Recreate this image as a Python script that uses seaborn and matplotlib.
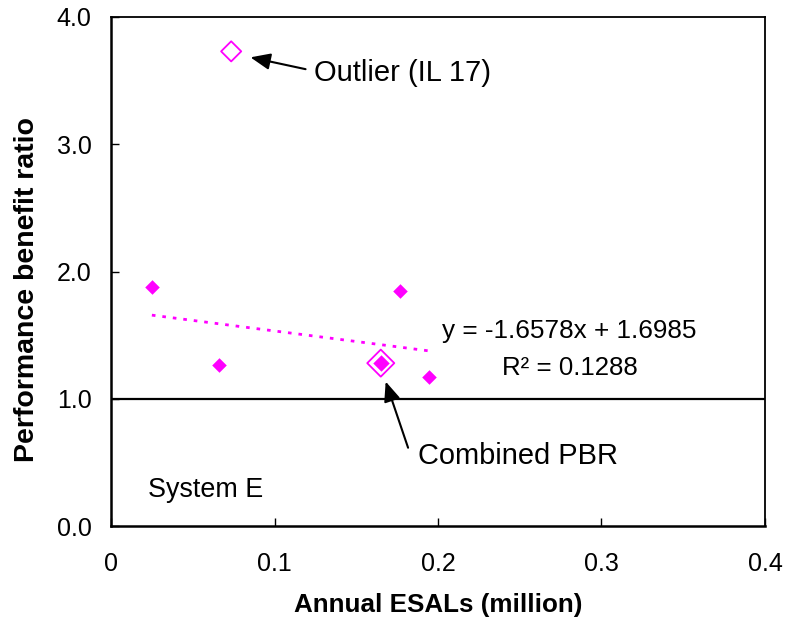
import matplotlib
matplotlib.use("Agg")
import matplotlib.pyplot as plt
import seaborn as sns
import numpy as np
import pandas as pd

# Section data: annual ESALs (million) vs performance benefit ratio
esals = [0.025, 0.066, 0.177, 0.1945]
pbr = [1.88, 1.265, 1.85, 1.17]

combined_esals = [0.165]
combined_pbr = [1.28]

outlier_esals = [0.0735]
outlier_pbr = [3.73]

# Linear trend (excluding the outlier)
slope = -1.6578
intercept = 1.6985
r2 = 0.1288
trend_x = [0.025, 0.195]

x_ticks = [0, 0.1, 0.2, 0.3, 0.4]
x_tick_labels = ["0", "0.1", "0.2", "0.3", "0.4"]
y_ticks = [0.0, 1.0, 2.0, 3.0, 4.0]
y_tick_labels = ["0.0", "1.0", "2.0", "3.0", "4.0"]

sns.set_theme(style="white")
plt.rcParams["font.family"] = ["Liberation Sans", "DejaVu Sans"]
plt.rcParams["text.color"] = "black"
plt.rcParams["axes.labelcolor"] = "black"

fig = plt.figure(figsize=(7.87, 6.26), dpi=100)
ax = fig.add_axes([111 / 787, 1 - 526 / 626, (765 - 111) / 787, (526 - 17) / 626])

magenta = "#FF00FF"

df = pd.DataFrame({"esals": esals, "pbr": pbr})
sns.scatterplot(data=df, x="esals", y="pbr", ax=ax, marker="D", s=55,
                color=magenta, edgecolor=magenta, linewidth=0, zorder=3)

# Combined PBR: filled diamond inside an open diamond
sns.scatterplot(x=combined_esals, y=combined_pbr, ax=ax, marker="D", s=190,
                color="none", edgecolor=magenta, linewidth=1.3, zorder=3)
sns.scatterplot(x=combined_esals, y=combined_pbr, ax=ax, marker="D", s=70,
                color=magenta, edgecolor=magenta, linewidth=0, zorder=4)

# Outlier: open diamond
sns.scatterplot(x=outlier_esals, y=outlier_pbr, ax=ax, marker="D", s=105,
                color="none", edgecolor=magenta, linewidth=1.3, zorder=3)

# Trend line
tx = np.array(trend_x)
sns.lineplot(x=tx, y=slope * tx + intercept, ax=ax, color=magenta,
             linestyle=(0, (1.3, 2.5)), linewidth=2.0, zorder=2)

# Reference line at PBR = 1
ax.axhline(1.0, color="black", linewidth=1.6, zorder=1)

ax.set_xlim(0, 0.4)
ax.set_ylim(0, 4.0)
ax.set_xticks(x_ticks)
ax.set_xticklabels(x_tick_labels)
ax.set_yticks(y_ticks)
ax.set_yticklabels(y_tick_labels)
ax.tick_params(axis="both", direction="in", length=6, width=1, color="black",
               labelsize=18, labelcolor="black",
               bottom=True, left=True, top=False, right=False)
ax.tick_params(axis="y", pad=14)
ax.tick_params(axis="x", pad=19)

for side in ax.spines.values():
    side.set_color("black")
    side.set_linewidth(1.3)
ax.spines["left"].set_linewidth(1.8)
ax.spines["bottom"].set_linewidth(1.8)

ax.set_xlabel("Annual ESALs (million)", fontsize=18.7, fontweight="bold", color="black")
ax.set_ylabel("Performance benefit ratio", fontsize=20.5, fontweight="bold", color="black")
ax.xaxis.label.set_va("center")
ax.yaxis.label.set_va("center")
ax.xaxis.set_label_coords(0.5, (526 - 605) / 509)
ax.yaxis.set_label_coords((27 - 111) / 654, (526 - 290) / 509)

ax.text(0.2024, 1.532, "y = -1.6578x + 1.6985", fontsize=18.8, ha="left", va="center")
ax.text(0.2807, 1.242, "R² = 0.1288", fontsize=18.6, ha="center", va="center")
ax.text(0.0226, 0.283, "System E", fontsize=19.4, ha="left", va="center")

arrow_kw = dict(arrowstyle="-|>,head_length=0.6,head_width=0.25", color="black",
                lw=1.5, mutation_scale=20, shrinkA=0, shrinkB=0)
ax.annotate("", xy=(0.0853, 3.683), xytext=(0.119, 3.59), arrowprops=arrow_kw)
ax.text(0.124, 3.56, "Outlier (IL 17)", fontsize=21, ha="left", va="center")
ax.annotate("", xy=(0.168, 1.135), xytext=(0.1817, 0.615), arrowprops=arrow_kw)
ax.text(0.188, 0.55, "Combined PBR", fontsize=20.9, ha="left", va="center")

fig.savefig("out.png", dpi=100)
